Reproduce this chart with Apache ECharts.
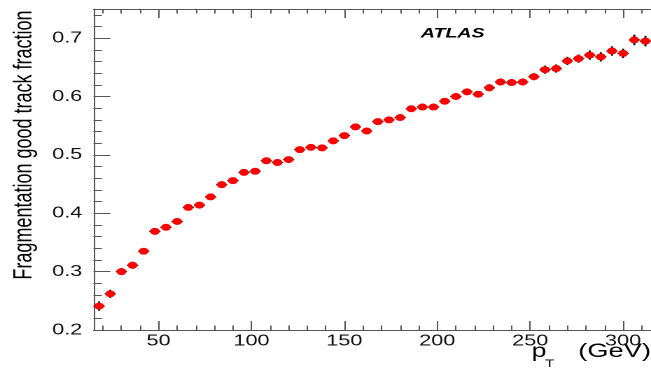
<!DOCTYPE html>
<html>
<head>
<meta charset="utf-8">
<script src="https://cdn.jsdelivr.net/npm/echarts@6/dist/echarts.min.js"></script>
<style>
html,body{margin:0;padding:0;background:#fff;overflow:hidden;width:651px;height:372px;}
#wrap{position:absolute;left:0;top:0;width:465px;height:372px;transform:scaleX(1.4);transform-origin:0 0;}
#chart{width:465px;height:372px;}
</style>
</head>
<body>
<div id="wrap"><div id="chart"></div></div>
<script>
// Bin centres (pT, GeV)
const pt = [18,24,30,36,42,48,54,60,66,72,78,84,90,96,102,108,114,120,126,132,
            138,144,150,156,162,168,174,180,186,192,198,204,210,216,222,228,234,240,246,252,
            258,264,270,276,282,288,294,300,306,312];
// Fragmentation good track fraction
const fraction = [0.241,0.262,0.300,0.311,0.335,0.369,0.376,0.386,0.410,0.414,
                  0.428,0.449,0.456,0.470,0.472,0.490,0.487,0.492,0.509,0.513,
                  0.512,0.524,0.533,0.548,0.541,0.557,0.560,0.564,0.579,0.582,
                  0.582,0.592,0.600,0.608,0.604,0.615,0.625,0.624,0.625,0.634,
                  0.646,0.648,0.661,0.665,0.671,0.668,0.678,0.674,0.697,0.695];
// Statistical uncertainty
const fractionErr = [0.008,0.007,0.006,0.006,0.005,0.005,0.004,0.004,0.004,0.004,
                     0.004,0.004,0.004,0.004,0.004,0.004,0.004,0.004,0.004,0.004,
                     0.004,0.004,0.004,0.004,0.004,0.005,0.005,0.005,0.005,0.005,
                     0.005,0.005,0.005,0.005,0.005,0.006,0.006,0.006,0.006,0.006,
                     0.007,0.007,0.007,0.007,0.008,0.008,0.008,0.008,0.009,0.009];
const binHalfWidth = 3;
// Tick labels
const xMajor = [50,100,150,200,250,300];
const xMinor = [20,30,40,60,70,80,90,110,120,130,140,160,170,180,190,210,220,230,240,260,270,280,290,310];
const yMajor = [0.2,0.3,0.4,0.5,0.6,0.7];
const yMinor = [0.22,0.24,0.26,0.28,0.32,0.34,0.36,0.38,0.42,0.44,0.46,0.48,0.52,0.54,0.56,0.58,0.62,0.64,0.66,0.68,0.72,0.74];

const FONT = '"Liberation Sans", Arial, Helvetica, sans-serif';
const axisColor = '#555';

const chart = echarts.init(document.getElementById('chart'), null, {renderer:'canvas', devicePixelRatio:2});

function xAx(position, values, len, withLine, withLabels) {
  return {
    type:'value', min:15, max:315, position: position, gridIndex:0,
    axisLine:{show:withLine, lineStyle:{color:axisColor, width:1}},
    axisTick:{show:true, inside:true, length:len, customValues:values, lineStyle:{color:axisColor, width:1}},
    axisLabel:{show:withLabels, customValues: withLabels ? values : undefined, fontFamily:FONT, fontSize:15.5, color:'#111', margin:3},
    splitLine:{show:false}
  };
}
function yAx(values, len, withLine, withLabels) {
  return {
    type:'value', min:0.2, max:0.75, position:'left', gridIndex:0,
    axisLine:{show:withLine, lineStyle:{color:axisColor, width:1}},
    axisTick:{show:true, inside:true, length:len, customValues:values, lineStyle:{color:axisColor, width:1}},
    axisLabel:{show:withLabels, customValues: withLabels ? values : undefined, fontFamily:FONT, fontSize:15.5, color:'#111', margin:8,
               formatter: v => Number(v).toFixed(1)},
    splitLine:{show:false}
  };
}

const data = pt.map((x,i) => [x, fraction[i], fractionErr[i]]);

chart.setOption({
  animation:false,
  backgroundColor:'#fff',
  grid:{left:66.8, top:9, width:399.4, height:321, containLabel:false},
  xAxis:[
    xAx('bottom', xMajor, 9, true, true),
    xAx('bottom', xMinor, 4.5, false, false),
    xAx('top', xMajor, 9, true, false),
    xAx('top', xMinor, 4.5, false, false)
  ],
  yAxis:[
    yAx(yMajor, 12, true, true),
    yAx(yMinor, 6, false, false)
  ],
  graphic:[
    {type:'text', x:17.5, y:145, rotation:Math.PI/2,
     style:{text:'Fragmentation good track fraction', font:'18px ' + FONT, fill:'#000',
            align:'center', verticalAlign:'middle', textAlign:'center', textVerticalAlign:'middle'}},
    {type:'text', x:300.5, y:33.5,
     style:{text:'ATLAS', font:'italic bold 14px ' + FONT, fill:'#000',
            align:'left', verticalAlign:'middle', textAlign:'left', textVerticalAlign:'middle'}},
    {type:'text', x:379.8, y:351.8,
     style:{text:'p', font:'19px ' + FONT, fill:'#000', align:'left', verticalAlign:'middle', textAlign:'left', textVerticalAlign:'middle'}},
    {type:'text', x:389.3, y:364,
     style:{text:'T', font:'11px ' + FONT, fill:'#000', align:'left', verticalAlign:'middle', textAlign:'left', textVerticalAlign:'middle'}},
    {type:'text', x:465, y:351.8,
     style:{text:'(GeV)', font:'19.5px ' + FONT, fill:'#000', align:'right', verticalAlign:'middle', textAlign:'right', textVerticalAlign:'middle'}}
  ],
  series:[{
    type:'custom', xAxisIndex:0, yAxisIndex:0, clip:false,
    data:data,
    renderItem:function(params, api){
      const x = api.value(0), y = api.value(1), e = api.value(2);
      const c = api.coord([x, y]);
      const l = api.coord([x - binHalfWidth, y]);
      const r = api.coord([x + binHalfWidth, y]);
      const t = api.coord([x, y + e]);
      const b = api.coord([x, y - e]);
      return {type:'group', children:[
        {type:'line', shape:{x1:l[0], y1:c[1], x2:r[0], y2:c[1]}, style:{stroke:'#000', lineWidth:1.2}},
        {type:'line', shape:{x1:c[0], y1:t[1], x2:c[0], y2:b[1]}, style:{stroke:'#000', lineWidth:1.4}},
        {type:'circle', shape:{cx:c[0], cy:c[1], r:3.5}, style:{fill:'#ff0000'}}
      ]};
    }
  }]
});
</script>
</body>
</html>
